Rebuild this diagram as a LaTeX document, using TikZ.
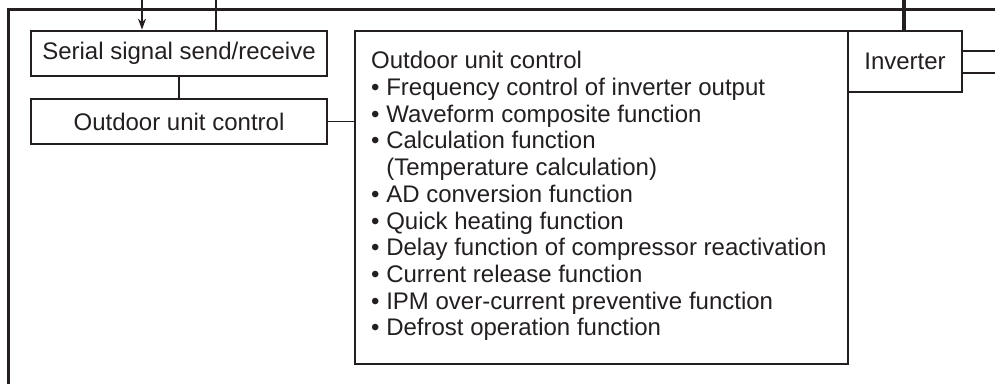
\documentclass[tikz,border=0pt]{standalone}
\usepackage{fontspec}
\setmainfont{Liberation Sans}
\usetikzlibrary{arrows.meta}
\definecolor{ink}{HTML}{231F20}
\begin{document}
\begin{tikzpicture}[x=1pt,y=-1pt,
  every node/.style={font=\fontsize{24}{26.7}\selectfont, text=ink},
  box/.style={draw=ink, line width=2.8pt, inner sep=0pt},
  frame/.style={draw=ink, line width=3pt},
  wire/.style={draw=ink, line width=1.4pt},
  bus/.style={draw=ink, line width=4.5pt}]
\useasboundingbox (0,0) rectangle (995,383);
% outer frame
\coordinate (fbl) at (8,390);
\coordinate (ftl) at (8,9);
\coordinate (ftr) at (1000,9);
\draw[frame, line cap=rect] (fbl) -- (ftl) -- (ftr);
% boxes
\node[box, minimum width=296pt, minimum height=45pt] (serial) at (179,53.5) {Serial signal send/receive};
\node[box, minimum width=296pt, minimum height=45pt] (odu) at (179,121.5) {Outdoor unit control};
\node[box, minimum width=493pt, minimum height=333pt] (big) at (601.5,197.5) {};
\node[box, minimum width=114pt, minimum height=61pt] (inv) at (905,61.5) {Inverter};
\node[anchor=north west, align=left, inner sep=0pt] (ctext) at (371,51.3)
  {Outdoor unit control\\
   \textbullet\ Frequency control of inverter output\\
   \textbullet\ Waveform composite function\\
   \textbullet\ Calculation function\\
   \phantom{\textbullet\ }(Temperature calculation)\\
   \textbullet\ AD conversion function\\
   \textbullet\ Quick heating function\\
   \textbullet\ Delay function of compressor reactivation\\
   \textbullet\ Current release function\\
   \textbullet\ IPM over-current preventive function\\
   \textbullet\ Defrost operation function};
% connectors
\coordinate (ina) at (142,-2);
\coordinate (inb) at (216,-2);
\draw[wire, -{Stealth[length=11pt,width=8pt]}] (ina) -- (ina |- serial.north);
\draw[wire] (inb) -- (inb |- serial.north);
\draw[wire] (serial.south) -- (odu.north);
\draw[wire] (odu.east) -- (big.west |- odu.east);
\coordinate (busT) at (904,-2);
\draw[bus] (busT) -- (busT |- inv.north);
\coordinate (o1) at (1000,51);
\coordinate (o2) at (1000,73);
\draw[wire] (o1 -| inv.east) -- (o1);
\draw[wire] (o2 -| inv.east) -- (o2);
\end{tikzpicture}
\end{document}
